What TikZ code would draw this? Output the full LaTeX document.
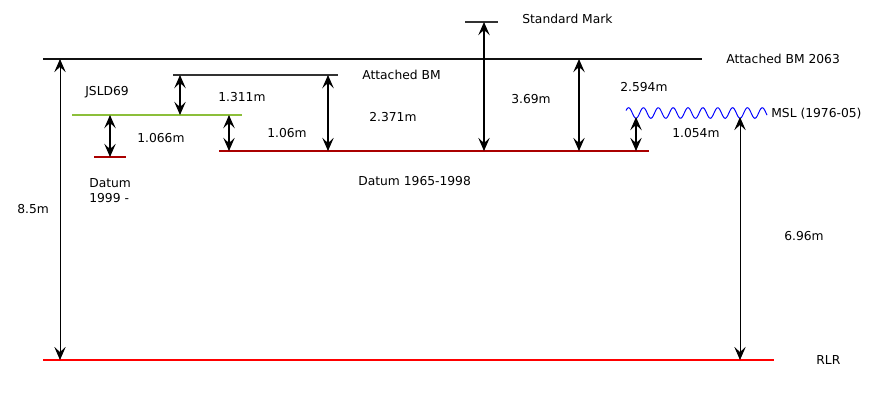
\documentclass[tikz,border=0pt]{standalone}
\usepackage{fontspec}
\setmainfont{DejaVu Sans}
\usetikzlibrary{arrows.meta}
\definecolor{bmblack}{HTML}{111111}
\definecolor{markgray}{HTML}{333333}
\definecolor{jsldgreen}{HTML}{8CBF3A}
\definecolor{datumred}{HTML}{AA0000}
\definecolor{rlrred}{HTML}{FF0000}
\definecolor{mslblue}{HTML}{0000FF}

\begin{document}
\begin{tikzpicture}[
      x=0.02cm, y=-0.02cm,
      every node/.style={font=\fontsize{7}{8.6}\selectfont, inner sep=0pt, anchor=west},
      thinlevel/.style={draw=markgray, line width=0.6pt},
      dim/.style={
        line width=0.65pt,
        {Stealth[length=7.5pt,width=6.5pt,inset=3pt]}-{Stealth[length=7.5pt,width=6.5pt,inset=3pt]}
      },
      longdim/.style={dim, line width=0.5pt}
    ]
      \useasboundingbox (0,0) rectangle (875,400);
      % levels
      \coordinate (sm-l) at (465,22);   \coordinate (sm-r) at (498,22);
      \coordinate (bm-l) at (43,59);    \coordinate (bm-r) at (702,59);
      \coordinate (abm-l) at (173,75);  \coordinate (abm-r) at (338,75);
      \coordinate (jsld-l) at (72,115); \coordinate (jsld-r) at (242,115);
      \coordinate (d99-l) at (94,157);  \coordinate (d99-r) at (126,157);
      \coordinate (d65-l) at (219,151); \coordinate (d65-r) at (649,151);
      \coordinate (rlr-l) at (43,360);  \coordinate (rlr-r) at (774,360);
      \coordinate (msl-a) at (636,117); \coordinate (msl-b) at (740,117);

      \draw[thinlevel] (sm-l) -- (sm-r);
      \draw[draw=bmblack, line width=1.3pt] (bm-l) -- (bm-r);
      \draw[thinlevel] (abm-l) -- (abm-r);
      \draw[draw=jsldgreen, line width=0.6pt] (jsld-l) -- (jsld-r);
      \draw[draw=datumred, line width=0.6pt] (d99-l) -- (d99-r);
      \draw[draw=datumred, line width=0.6pt] (d65-l) -- (d65-r);
      \draw[draw=rlrred, line width=1.2pt] (rlr-l) -- (rlr-r);
      \draw[draw=mslblue, line width=0.55pt]
        plot[domain=626:767, samples=160, smooth] (\x, {113+5.3*cos(24.226*(\x-636))});

      % dimensions
      \draw[longdim] (60,0 |- bm-l) -- (60,0 |- rlr-l);
      \draw[dim] (110,0 |- jsld-l) -- (110,0 |- d99-l);
      \draw[dim] (180,0 |- abm-l) -- (180,0 |- jsld-l);
      \draw[dim] (229,0 |- jsld-l) -- (229,0 |- d65-l);
      \draw[dim] (328,0 |- abm-l) -- (328,0 |- d65-l);
      \draw[dim] (484,0 |- sm-l) -- (484,0 |- d65-l);
      \draw[dim] (579,0 |- bm-l) -- (579,0 |- d65-l);
      \draw[dim] (msl-a) -- (msl-a |- d65-l);
      \draw[longdim] (msl-b) -- (msl-b |- rlr-l);

      % labels
      \node (smlab) at (522,19) {Standard Mark};
      \node (bmlab) at (726,59) {Attached BM 2063};
      \node (abmlab) at (362,75) {Attached BM};
      \node (jsldlab) at (85,92) {JSLD69};
      \node (mslab) at (771,114) {MSL (1976-05)};
      \node (d65lab) at (358,181) {Datum 1965-1998};
      \node[align=left] (d99lab) at (89,191) {Datum\\1999 -};
      \node (rlrlab) at (816,360) {RLR};
      \node (v85) at (17,209) {8.5m};
      \node (v1066) at (137,138) {1.066m};
      \node (v1311) at (218,97) {1.311m};
      \node (v106) at (267,133) {1.06m};
      \node (v2371) at (369,117) {2.371m};
      \node (v369) at (511,99) {3.69m};
      \node (v2594) at (620,87) {2.594m};
      \node (v1054) at (672,133) {1.054m};
      \node (v696) at (784,236) {6.96m};
    \end{tikzpicture}
\end{document}
